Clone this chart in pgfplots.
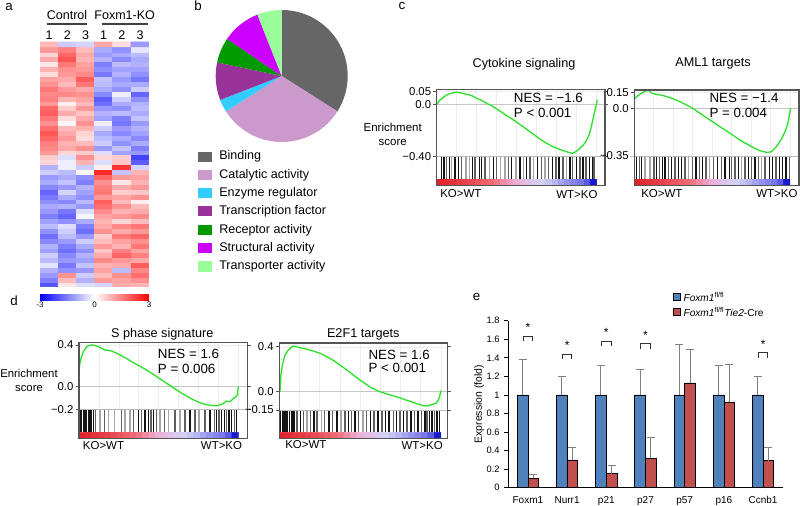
\documentclass[border=0pt]{standalone}
\usepackage{fontspec}
\setmainfont{Liberation Sans}
\usepackage{pgfplots}
\pgfplotsset{compat=1.18}
\usepackage{pgfplotstable}

\newcommand\fs[1]{\fontsize{#1}{#1}\selectfont}

\definecolor{esgreen}{RGB}{45,225,45}
\definecolor{hitA}{RGB}{20,20,20}
\definecolor{hitB}{RGB}{95,95,95}
\definecolor{hitC}{RGB}{165,165,165}
\definecolor{framec}{RGB}{85,85,85}
\definecolor{pBinding}{RGB}{102,102,102}
\definecolor{pCatalytic}{RGB}{204,153,204}
\definecolor{pEnzyme}{RGB}{51,204,255}
\definecolor{pTF}{RGB}{153,51,153}
\definecolor{pReceptor}{RGB}{0,153,0}
\definecolor{pStruct}{RGB}{204,0,255}
\definecolor{pTrans}{RGB}{153,255,153}
\definecolor{barblue}{RGB}{79,129,189}
\definecolor{barred}{RGB}{192,80,77}

% ranked-list colour bar (position, row, score)
\pgfplotstableread{
x y m
2 0 0.0
6 0 0.3
10 0 0.6
14 0 0.9
18 0 1.2
22 0 1.6
26 0 2.0
30 0 2.4
34 0 2.8
38 0 3.3
42 0 3.9
46 0 4.5
50 0 5.0
54 0 5.6
58 0 6.2
62 0 6.7
66 0 7.0
70 0 7.3
74 0 7.6
78 0 8.0
82 0 8.4
86 0 8.7
90 0 9.0
94 0 9.3
98 0 10
2 1 0.0
6 1 0.3
10 1 0.6
14 1 0.9
18 1 1.2
22 1 1.6
26 1 2.0
30 1 2.4
34 1 2.8
38 1 3.3
42 1 3.9
46 1 4.5
50 1 5.0
54 1 5.6
58 1 6.2
62 1 6.7
66 1 7.0
70 1 7.3
74 1 7.6
78 1 8.0
82 1 8.4
86 1 8.7
90 1 9.0
94 1 9.3
98 1 10
}\rankbar

\pgfplotsset{
  esax/.style={scale only axis, anchor=north west, width=126.2pt, height=50.25pt, xmin=0,
    axis line style={draw=none}, xtick={12.5,25,37.5,50,62.5,75,87.5,100}, xticklabels={},
    xtick style={draw=none}, grid=major, major grid style={black!7, line width=0.4pt},
    tick align=outside, major tick length=2.5pt, ytick style={framec, line width=0.5pt},
    yticklabel style={font=\fs{8.5}, inner sep=1.5pt}, clip=true},
  bcax/.style={scale only axis, anchor=north west, width=126.2pt, xmin=0, ymin=0, ymax=1,
    axis line style={draw=none}, ticks=none, clip=true},
  rkax/.style={scale only axis, anchor=north west, width=126.2pt, height=4.1pt, xmin=0,
    ymin=-0.5, ymax=1.5, axis line style={draw=none}, ticks=none,
    colormap={rank}{rgb255(0cm)=(225,35,45) rgb255(3cm)=(240,110,120) rgb255(5cm)=(238,175,215) rgb255(7cm)=(212,208,245) rgb255(9cm)=(120,120,235) rgb255(10cm)=(25,25,205)},
    point meta min=0, point meta max=10},
  hitsA/.style={ycomb, draw=hitA, line width=1.1pt, mark=none, forget plot},
  hitsB/.style={ycomb, draw=hitB, line width=1.1pt, mark=none, forget plot},
  hitsC/.style={ycomb, draw=hitC, line width=1.1pt, mark=none, forget plot},
  escurve/.style={esgreen, line width=1pt, mark=none},
  zeroline/.style={gray!45, line width=0.6pt, forget plot},
}

\newcommand\piewedge[3]{\fill[#1] (axis cs:0,0) -- ++({90-3.6*(#2)}:49.5pt) arc[start angle={90-3.6*(#2)}, delta angle={-3.6*(#3)}, radius=49.5pt] -- cycle;}

\begin{document}
\begin{tikzpicture}[x=0.75pt,y=-0.75pt]
\path[use as bounding box] (0,0) rectangle (800,506);

% ================= panel a : heatmap =================
\node[font=\fs{10}] at (9,7) {a};
\node[font=\fs{9.4}] at (67,15) {Control};
\node[font=\fs{9.4}] at (124.7,15) {Foxm1-KO};
\draw[black!75, line width=1pt] (46.7,24) -- (86.7,24);
\draw[black!75, line width=1pt] (101.7,24) -- (148.3,24);
\foreach \xx/\lab in {49.1/1,67.3/2,85.5/3,103.7/1,121.9/2,140.1/3}
  \node[font=\fs{9.4}] at (\xx,35) {\lab};

\begin{axis}[at={({40*0.75pt},{-42*0.75pt})}, anchor=north west, scale only axis,
  width=81.75pt, height=183.75pt, xmin=-0.5, xmax=5.5, ymin=-0.5, ymax=49.5,
  axis line style={draw=none}, ticks=none,
  colormap={bwr}{rgb255=(0,0,255) rgb255=(255,255,255) rgb255=(255,0,0)},
  point meta min=-3, point meta max=3,
  colorbar horizontal,
  colorbar style={at={(parent axis.south west)}, anchor=north west, yshift=3pt,
    scale only axis, width=81.75pt, height=4.5pt, xtick={-3,0,3},
    xticklabel style={font=\fs{6}, inner sep=1pt}, major tick length=0pt,
    axis line style={draw=none}, /pgf/number format/assume math mode=true}]
\addplot[matrix plot*, mesh/cols=6, point meta=explicit] coordinates {
(0,0)[-2.0] (1,0)[0.3] (2,0)[-0.4] (3,0)[-0.5] (4,0)[1.0] (5,0)[0.9]
(0,1)[-1.5] (1,1)[0.8] (2,1)[-0.9] (3,1)[1.2] (4,1)[1.1] (5,1)[1.3]
(0,2)[-1.2] (1,2)[1.3] (2,2)[-0.6] (3,2)[0.8] (4,2)[1.3] (5,2)[1.7]
(0,3)[-0.9] (1,3)[-1.3] (2,3)[-1.2] (3,3)[1.1] (4,3)[-0.8] (5,3)[1.4]
(0,4)[-0.3] (1,4)[-1.6] (2,4)[-0.7] (3,4)[0.9] (4,4)[1.0] (5,4)[1.9]
(0,5)[-0.8] (1,5)[-1.2] (2,5)[-1.1] (3,5)[1.4] (4,5)[1.2] (5,5)[1.0]
(0,6)[-0.6] (1,6)[-1.4] (2,6)[-0.9] (3,6)[1.0] (4,6)[1.8] (5,6)[1.5]
(0,7)[-1.1] (1,7)[-1.7] (2,7)[-1.3] (3,7)[0.7] (4,7)[1.5] (5,7)[1.1]
(0,8)[-0.9] (1,8)[-1.5] (2,8)[-1.0] (3,8)[1.2] (4,8)[0.9] (5,8)[1.6]
(0,9)[-1.4] (1,9)[-1.2] (2,9)[-0.6] (3,9)[0.8] (4,9)[1.1] (5,9)[1.3]
(0,10)[-1.7] (1,10)[-0.8] (2,10)[-1.2] (3,10)[0.6] (4,10)[1.6] (5,10)[1.8]
(0,11)[-1.3] (1,11)[-0.6] (2,11)[-1.7] (3,11)[1.3] (4,11)[1.0] (5,11)[1.2]
(0,12)[-0.8] (1,12)[-0.4] (2,12)[-1.5] (3,12)[1.0] (4,12)[1.4] (5,12)[1.6]
(0,13)[-1.1] (1,13)[-1.3] (2,13)[-1.0] (3,13)[0.9] (4,13)[0.5] (5,13)[0.8]
(0,14)[-1.5] (1,14)[-1.8] (2,14)[-0.1] (3,14)[1.1] (4,14)[1.2] (5,14)[1.4]
(0,15)[-1.2] (1,15)[-1.6] (2,15)[-0.4] (3,15)[1.4] (4,15)[0.9] (5,15)[1.0]
(0,16)[-1.0] (1,16)[-0.9] (2,16)[-1.2] (3,16)[1.7] (4,16)[1.3] (5,16)[0.8]
(0,17)[-1.3] (1,17)[-1.4] (2,17)[-0.8] (3,17)[1.9] (4,17)[0.8] (5,17)[0.2]
(0,18)[-1.6] (1,18)[-1.0] (2,18)[-1.3] (3,18)[1.2] (4,18)[1.1] (5,18)[1.3]
(0,19)[-1.8] (1,19)[-0.5] (2,19)[-1.1] (3,19)[1.6] (4,19)[0.6] (5,19)[0.7]
(0,20)[-1.4] (1,20)[-1.2] (2,20)[-0.9] (3,20)[1.5] (4,20)[1.0] (5,20)[1.2]
(0,21)[-1.0] (1,21)[-0.7] (2,21)[-1.5] (3,21)[1.3] (4,21)[0.3] (5,21)[0.9]
(0,22)[-1.2] (1,22)[-1.0] (2,22)[-1.3] (3,22)[1.8] (4,22)[1.2] (5,22)[1.1]
(0,23)[-0.6] (1,23)[-0.8] (2,23)[0.1] (3,23)[2.5] (4,23)[-0.7] (5,23)[0.9]
(0,24)[-0.9] (1,24)[-0.2] (2,24)[-0.6] (3,24)[0.2] (4,24)[2.4] (5,24)[-0.5]
(0,25)[0.5] (1,25)[-0.2] (2,25)[0.9] (3,25)[-0.4] (4,25)[0.7] (5,25)[-1.9]
(0,26)[0.6] (1,26)[-0.4] (2,26)[1.3] (3,26)[0.5] (4,26)[0.6] (5,26)[-2.2]
(0,27)[1.2] (1,27)[0.5] (2,27)[0.6] (3,27)[-0.4] (4,27)[-1.1] (5,27)[-1.2]
(0,28)[1.4] (1,28)[1.0] (2,28)[1.3] (3,28)[-1.2] (4,28)[-0.7] (5,28)[-1.5]
(0,29)[1.5] (1,29)[0.9] (2,29)[0.8] (3,29)[-0.6] (4,29)[-1.3] (5,29)[-1.0]
(0,30)[1.8] (1,30)[1.2] (2,30)[0.4] (3,30)[-0.8] (4,30)[-1.0] (5,30)[-1.4]
(0,31)[2.0] (1,31)[1.0] (2,31)[0.5] (3,31)[-1.0] (4,31)[-1.4] (5,31)[-1.1]
(0,32)[1.7] (1,32)[0.8] (2,32)[0.9] (3,32)[-0.6] (4,32)[-1.2] (5,32)[-0.9]
(0,33)[1.3] (1,33)[0.1] (2,33)[1.3] (3,33)[-0.2] (4,33)[-1.6] (5,33)[-1.2]
(0,34)[1.6] (1,34)[0.4] (2,34)[1.0] (3,34)[-1.1] (4,34)[-1.5] (5,34)[-0.7]
(0,35)[1.9] (1,35)[1.0] (2,35)[0.7] (3,35)[-0.9] (4,35)[-0.8] (5,35)[-1.0]
(0,36)[1.8] (1,36)[0.6] (2,36)[1.2] (3,36)[-1.2] (4,36)[-1.3] (5,36)[-0.8]
(0,37)[1.2] (1,37)[0.2] (2,37)[0.8] (3,37)[-1.7] (4,37)[-1.0] (5,37)[-0.9]
(0,38)[1.5] (1,38)[0.9] (2,38)[1.1] (3,38)[-1.9] (4,38)[-0.6] (5,38)[-1.3]
(0,39)[1.4] (1,39)[1.4] (2,39)[1.3] (3,39)[-1.4] (4,39)[-0.2] (5,39)[-1.8]
(0,40)[1.6] (1,40)[1.2] (2,40)[1.0] (3,40)[-1.0] (4,40)[-1.3] (5,40)[-0.6]
(0,41)[1.3] (1,41)[0.8] (2,41)[1.6] (3,41)[-0.8] (4,41)[-1.0] (5,41)[-1.0]
(0,42)[1.1] (1,42)[1.0] (2,42)[1.9] (3,42)[-0.7] (4,42)[-1.2] (5,42)[-1.6]
(0,43)[0.4] (1,43)[1.2] (2,43)[1.4] (3,43)[-1.6] (4,43)[-0.9] (5,43)[-1.3]
(0,44)[0.9] (1,44)[1.3] (2,44)[1.2] (3,44)[-1.3] (4,44)[-1.1] (5,44)[-1.1]
(0,45)[0.3] (1,45)[1.6] (2,45)[1.1] (3,45)[-1.5] (4,45)[-0.8] (5,45)[-0.9]
(0,46)[1.0] (1,46)[2.0] (2,46)[0.9] (3,46)[-0.9] (4,46)[-1.4] (5,46)[-1.0]
(0,47)[0.5] (1,47)[1.8] (2,47)[1.0] (3,47)[-1.2] (4,47)[-1.0] (5,47)[-0.8]
(0,48)[1.2] (1,48)[1.5] (2,48)[0.8] (3,48)[-1.0] (4,48)[-1.3] (5,48)[-0.3]
(0,49)[0.8] (1,49)[-0.6] (2,49)[-0.5] (3,49)[1.0] (4,49)[0.4] (5,49)[-1.2]
};
\end{axis}

% ================= panel b : pie =================
\node[font=\fs{10}] at (198,6) {b};
\begin{axis}[at={({281.7*0.75pt},{-76*0.75pt})}, anchor=center, scale only axis, width=99pt, height=99pt,
  xmin=-1, xmax=1, ymin=-1, ymax=1, hide axis]
\piewedge{pBinding}{0}{34}
\piewedge{pCatalytic}{34}{32}
\piewedge{pEnzyme}{66}{3.1}
\piewedge{pTF}{69.1}{9.2}
\piewedge{pReceptor}{78.3}{6.2}
\piewedge{pStruct}{84.5}{9.5}
\piewedge{pTrans}{94}{6}
\end{axis}
\foreach \yy/\cc/\lab in {156.7/pBinding/Binding, 174.9/pCatalytic/Catalytic activity,
  193.1/pEnzyme/Enzyme regulator, 211.5/pTF/Transcription factor,
  229.8/pReceptor/Receptor activity, 248.1/pStruct/Structural activity,
  266.5/pTrans/Transporter activity}{
  \fill[\cc] (198.3,\yy-5) rectangle (211.7,\yy+5);
  \node[anchor=west, inner sep=0pt, font=\fs{9.4}] at (219,\yy) {\lab};
}

% ================= panel c =================
\node[font=\fs{10}] at (402,6) {c};
\node[font=\fs{9.5}] at (524,64) {Cytokine signaling};
\node[font=\fs{9.5}] at (713,63) {AML1 targets};
\node[align=center, font=\fontsize{8.6}{10.8}\selectfont] at (392.7,134.5) {Enrichment\\score};

% --- c1
\begin{axis}[esax, at={({436.7*0.75pt},{-89.3*0.75pt})}, xmax=105.2, ymin=-0.40, ymax=0.115,
  ytick={0.097,0,-0.40}, yticklabels={0.05,0.0,−0.40}]
\addplot[zeroline] coordinates {(0,0) (105.2,0)};
\addplot[escurve] coordinates {(0,0) (2.1,0.033) (6.25,0.072) (9,0.085) (12.5,0.092) (15,0.088) (18.75,0.077) (22,0.066) (25,0.046) (28,0.030) (31.25,0.008) (34.5,-0.012) (37.5,-0.036) (40.5,-0.060) (43.75,-0.088) (47,-0.112) (50,-0.138) (53,-0.164) (56.25,-0.192) (59.5,-0.222) (62.5,-0.249) (65.5,-0.276) (68.75,-0.300) (72,-0.322) (75,-0.338) (78,-0.352) (81.25,-0.365) (84.4,-0.377) (86,-0.372) (87.5,-0.359) (89.5,-0.34) (91.7,-0.313) (93.3,-0.285) (94.8,-0.249) (96,-0.205) (96.9,-0.159) (98,-0.10) (99,-0.044) (100.4,0.033)};
\end{axis}
\begin{axis}[bcax, at={({436.7*0.75pt},{-156.3*0.75pt})}, height=17.25pt, xmax=105.2]
\addplot[hitsA] coordinates {(3.1,1) (4.6,1) (7.9,1) (11.4,1) (13.5,1) (22.5,1) (26.6,1) (28.1,1) (35.4,1) (46.9,1) (52.1,1) (56.2,1) (62.9,1) (72.5,1) (76.6,1) (83.3,1) (87.5,1) (91.6,1) (95.4,1) (97.5,1)};
\addplot[hitsB] coordinates {(6.2,1) (15.6,1) (24.0,1) (30.2,1) (37.5,1) (44.8,1) (58.3,1) (65.6,1) (69.8,1) (74.6,1) (79.1,1) (85.0,1) (89.6,1) (93.3,1) (98.3,1)};
\addplot[hitsC] coordinates {(9.4,1) (18.3,1) (20.4,1) (32.9,1) (40.0,1) (42.7,1) (49.6,1) (54.1,1) (60.4,1) (67.7,1) (81.2,1)};
\end{axis}
\begin{axis}[rkax, at={({436.7*0.75pt},{-179.5*0.75pt})}, xmax=105.2]
\addplot[matrix plot*, mesh/cols=25, point meta=explicit] table[meta=m] {\rankbar};
\end{axis}
\draw[gray!55, line width=0.5pt] (436.7,156.3) -- (605,156.3);
\draw[framec, line width=0.8pt] (436.7,89.3) rectangle (605,185.7);
\node[font=\fs{10}, anchor=west, inner sep=0pt] at (513.7,98.3) {NES = −1.6};
\node[font=\fs{10}, anchor=west, inner sep=0pt] at (513.7,113.3) {P < 0.001};
\node[font=\fs{8.6}, anchor=west, inner sep=0pt] at (440,193.5) {KO>WT};
\node[font=\fs{8.6}, anchor=east, inner sep=0pt] at (597.7,194.5) {WT>KO};

% --- c2
\begin{axis}[esax, at={({634.3*0.75pt},{-90*0.75pt})}, width=123.5pt, height=49.5pt, xmax=105.8,
  ymin=-0.35, ymax=0.134, ytick={0.114,0,-0.35}, yticklabels={0.15,0.0,−0.35}]
\addplot[zeroline] coordinates {(0,0) (105.8,0)};
\addplot[escurve] coordinates {(0,0.068) (1.5,0.085) (3.7,0.103) (6,0.12) (9.0,0.134) (11.2,0.110) (13.5,0.104) (16.5,0.098) (19.5,0.090) (22.9,0.078) (26,0.064) (29.4,0.048) (32.5,0.030) (35.8,0.012) (39,-0.012) (42.2,-0.037) (45.4,-0.062) (48.6,-0.086) (51.8,-0.110) (55,-0.135) (58.2,-0.159) (61.5,-0.183) (64.7,-0.208) (67.9,-0.233) (71,-0.254) (74.3,-0.274) (77.5,-0.294) (80.7,-0.311) (83,-0.318) (85,-0.323) (86.5,-0.322) (88.2,-0.318) (89.3,-0.305) (90.4,-0.293) (92,-0.27) (93.6,-0.245) (95.2,-0.21) (96.8,-0.172) (98,-0.135) (98.9,-0.098) (99.6,-0.05) (100.4,0.0)};
\end{axis}
\begin{axis}[bcax, at={({634.3*0.75pt},{-156*0.75pt})}, width=123.5pt, height=17.6pt, xmax=105.8]
\addplot[hitsA] coordinates {(1.5,1) (4.7,1) (14.4,1) (18.2,1) (19.7,1) (24.0,1) (28.3,1) (30.4,1) (39.6,1) (43.9,1) (53.3,1) (58.3,1) (61.0,1) (66.8,1) (73.3,1) (77.5,1) (86.7,1) (88.9,1) (93.2,1) (95.3,1) (97.5,1)};
\addplot[hitsB] coordinates {(3.2,1) (12.7,1) (16.1,1) (21.9,1) (26.1,1) (32.6,1) (37.5,1) (41.8,1) (46.1,1) (50.8,1) (56.1,1) (62.6,1) (64.7,1) (71.1,1) (75.4,1) (79.7,1) (84.0,1) (91.0,1) (99.6,1)};
\addplot[hitsC] coordinates {(6.9,1) (10.1,1) (34.7,1) (48.2,1) (69.0,1) (81.8,1)};
\end{axis}
\begin{axis}[rkax, at={({634.3*0.75pt},{-179.5*0.75pt})}, width=123.5pt, xmax=105.8]
\addplot[matrix plot*, mesh/cols=25, point meta=explicit] table[meta=m] {\rankbar};
\end{axis}
\draw[gray!55, line width=0.5pt] (630,156) -- (799,156);
\draw[framec, line width=0.8pt] (634.3,90) rectangle (799,185.7);
\node[font=\fs{10}, anchor=west, inner sep=0pt] at (709.3,97.7) {NES = −1.4};
\node[font=\fs{10}, anchor=west, inner sep=0pt] at (709.3,112.7) {P = 0.004};
\node[font=\fs{8.6}, anchor=west, inner sep=0pt] at (641,193.3) {KO>WT};
\node[font=\fs{8.6}, anchor=east, inner sep=0pt] at (797.7,194) {WT>KO};

% ================= panel d =================
\node[font=\fs{10}] at (14,301) {d};
\node[font=\fs{9.5}] at (162.3,334.3) {S phase signature};
\node[font=\fs{9.5}] at (363.3,334.3) {E2F1 targets};
\node[align=center, font=\fontsize{8.5}{10.8}\selectfont] at (29,380.3) {Enrichment\\score};

% --- d1
\begin{axis}[esax, at={({79*0.75pt},{-342.3*0.75pt})}, xmax=105.6, ymin=-0.2, ymax=0.393,
  ytick={0.369,0,-0.2}, yticklabels={0.4,0.0,−0.2}]
\addplot[zeroline] coordinates {(0,0) (105.6,0)};
\addplot[escurve] coordinates {(0,0.163) (1.26,0.251) (2.7,0.310) (4.8,0.354) (6.5,0.366) (8.0,0.369) (10,0.365) (12.1,0.354) (14.2,0.340) (16.3,0.325) (18.4,0.322) (20.5,0.316) (23.6,0.296) (26.8,0.274) (30,0.248) (33.1,0.221) (36.2,0.197) (39.4,0.172) (42.5,0.146) (45.6,0.119) (48.8,0.089) (51.9,0.059) (55,0.030) (58.2,0.0) (61.3,-0.029) (64.5,-0.058) (67.6,-0.084) (70.8,-0.109) (74,-0.130) (77,-0.147) (79,-0.155) (81.2,-0.162) (83.8,-0.166) (86.4,-0.168) (88,-0.163) (89.6,-0.156) (91.2,-0.142) (92.7,-0.127) (93.8,-0.131) (94.8,-0.133) (95.9,-0.118) (96.9,-0.103) (98.6,-0.088) (99.4,-0.07) (100,0.0)};
\end{axis}
\begin{axis}[bcax, at={({79*0.75pt},{-409.3*0.75pt})}, height=17.25pt, xmax=105.6]
\addplot[hitsA] coordinates {(0.6,1) (1.7,1) (2.7,1) (3.8,1) (4.8,1) (6.3,1) (7.5,1) (9.0,1) (37.2,1) (41.4,1) (43.5,1) (46.7,1) (69.7,1) (82.2,1) (86.4,1) (89.5,1) (91.2,1) (94.1,1) (95.8,1) (98.9,1)};
\addplot[hitsB] coordinates {(10.5,1) (15.9,1) (26.8,1) (34.1,1) (39.3,1) (45.2,1) (48.7,1) (53.6,1) (60.3,1) (66.5,1) (72.8,1) (79.1,1) (84.9,1) (87.9,1) (92.7,1) (97.5,1)};
\addplot[hitsC] coordinates {(13.2,1) (18.4,1) (22.2,1) (28.9,1) (32.0,1) (50.8,1) (56.1,1) (63.4,1) (75.3,1)};
\end{axis}
\begin{axis}[rkax, at={({79*0.75pt},{-432.3*0.75pt})}, xmax=105.6]
\addplot[matrix plot*, mesh/cols=25, point meta=explicit] table[meta=m] {\rankbar};
\end{axis}
\draw[gray!55, line width=0.5pt] (79,409.3) -- (247.3,409.3);
\draw[framec, line width=0.8pt] (79,342.3) rectangle (247.3,438.3);
\node[font=\fs{10}, anchor=west, inner sep=0pt] at (157.7,354.3) {NES = 1.6};
\node[font=\fs{10}, anchor=west, inner sep=0pt] at (157.7,369) {P = 0.006};
\node[font=\fs{8.6}, anchor=west, inner sep=0pt] at (82.7,446) {KO>WT};
\node[font=\fs{8.6}, anchor=east, inner sep=0pt] at (242.3,446) {WT>KO};

% --- d2
\begin{axis}[esax, at={({279.3*0.75pt},{-343*0.75pt})}, xmax=104.1, ymin=-0.15, ymax=0.40,
  ytick={0.369,0,-0.15}, yticklabels={0.4,0.0,−0.15}]
\addplot[zeroline] coordinates {(0,0) (104.1,0)};
\addplot[escurve] coordinates {(0.4,0) (1.0,0.137) (1.9,0.219) (3.5,0.301) (5.5,0.342) (7.1,0.362) (8.7,0.375) (10.7,0.368) (12.8,0.361) (16.0,0.352) (19.0,0.342) (22.2,0.329) (25.2,0.315) (28.3,0.296) (31.3,0.274) (34.5,0.248) (37.5,0.219) (40.6,0.190) (43.7,0.159) (46.8,0.127) (49.9,0.096) (53.0,0.068) (56.1,0.040) (59.3,0.018) (62.3,0.0) (65.4,-0.013) (68.5,-0.025) (71.6,-0.038) (74.7,-0.050) (78.8,-0.070) (82.9,-0.088) (86,-0.102) (89.1,-0.114) (91.3,-0.117) (93.2,-0.110) (95.3,-0.102) (97.3,-0.092) (98.9,-0.054) (100,0.01)};
\end{axis}
\begin{axis}[bcax, at={({279.3*0.75pt},{-410*0.75pt})}, height=16.7pt, xmax=104.1]
\addplot[hitsA] coordinates {(0.9,1) (1.9,1) (3.0,1) (4.0,1) (5.0,1) (6.3,1) (7.8,1) (9.2,1) (13.0,1) (21.4,1) (30.8,1) (35.6,1) (42.7,1) (46.9,1) (56.5,1) (61.1,1) (65.7,1) (67.8,1) (72.6,1) (76.8,1) (81.6,1) (85.8,1) (90.0,1) (93.0,1) (94.5,1) (97.5,1) (99.0,1)};
\addplot[hitsB] coordinates {(10.9,1) (15.1,1) (19.3,1) (23.4,1) (28.0,1) (32.9,1) (40.6,1) (44.8,1) (49.0,1) (53.8,1) (58.6,1) (63.6,1) (70.5,1) (74.7,1) (78.9,1) (83.7,1) (87.9,1) (91.5,1) (96.0,1)};
\addplot[hitsC] coordinates {(17.2,1) (26.0,1) (38.1,1) (51.7,1)};
\end{axis}
\begin{axis}[rkax, at={({279.3*0.75pt},{-432.3*0.75pt})}, xmax=104.1]
\addplot[matrix plot*, mesh/cols=25, point meta=explicit] table[meta=m] {\rankbar};
\end{axis}
\draw[gray!55, line width=0.5pt] (279.3,410) -- (447.6,410);
\draw[framec, line width=0.8pt] (279.3,343) rectangle (447.6,438.3);
\node[font=\fs{10}, anchor=west, inner sep=0pt] at (368.3,355) {NES = 1.6};
\node[font=\fs{10}, anchor=west, inner sep=0pt] at (368.3,368.3) {P < 0.001};
\node[font=\fs{8.6}, anchor=west, inner sep=0pt] at (285,445) {KO>WT};
\node[font=\fs{8.6}, anchor=east, inner sep=0pt] at (443,446) {WT>KO};

% ================= panel e =================
\node[font=\fs{10}] at (476.7,297) {e};
\begin{axis}[at={({508.3*0.75pt},{-487.7*0.75pt})}, anchor=south west, scale only axis,
  width=205.8pt, height=125.25pt, xmin=-0.5, xmax=6.5, ymin=0, ymax=1.8,
  axis x line*=bottom, axis y line*=left, axis line style={black, line width=0.6pt},
  xtick={0,1,2,3,4,5,6}, xticklabels={Foxm1,Nurr1,p21,p27,p57,p16,Ccnb1},
  ytick={0,0.2,0.4,0.6,0.8,1,1.2,1.4,1.6,1.8},
  tick align=outside, major tick length=3pt, xtick style={draw=none},
  ytick style={black, line width=0.5pt},
  yticklabel style={font=\fs{7}, /pgf/number format/fixed, /pgf/number format/precision=1},
  xticklabel style={font=\fs{7.5}},
  ylabel={Expression (fold)},
  ylabel style={font=\fs{7.8}, at={(axis description cs:-0.106,0.5)}, anchor=center},
  /pgf/number format/assume math mode=true, clip=false]
\addplot[ybar, bar width=8pt, bar shift=0pt, fill=barblue, draw=black, line width=0.5pt,
  error bars/.cd, y dir=plus, y explicit,
  error bar style={black!50, line width=0.7pt},
  error mark options={rotate=90, mark size=3pt, black!50, line width=0.7pt}]
  coordinates {(-0.1365,1) +- (0,0.38) (0.8635,1) +- (0,0.20) (1.8635,1) +- (0,0.32) (2.8635,1) +- (0,0.27) (3.8635,1) +- (0,0.54) (4.8635,1) +- (0,0.32) (5.8635,1) +- (0,0.20)};
\addplot[ybar, bar width=8pt, bar shift=0pt, fill=barred, draw=black, line width=0.5pt,
  error bars/.cd, y dir=plus, y explicit,
  error bar style={black!50, line width=0.7pt},
  error mark options={rotate=90, mark size=3pt, black!50, line width=0.7pt}]
  coordinates {(0.1365,0.10) +- (0,0.04) (1.1365,0.30) +- (0,0.13) (2.1365,0.15) +- (0,0.09) (3.1365,0.32) +- (0,0.22) (4.1365,1.13) +- (0,0.36) (5.1365,0.92) +- (0,0.41) (6.1365,0.29) +- (0,0.14)};
\addplot[black!80, line width=0.6pt, forget plot] coordinates {(-0.12,1.58) (-0.12,1.635) (0.12,1.635) (0.12,1.58)};
\addplot[black!80, line width=0.6pt, forget plot] coordinates {(0.88,1.385) (0.88,1.44) (1.12,1.44) (1.12,1.385)};
\addplot[black!80, line width=0.6pt, forget plot] coordinates {(1.88,1.525) (1.88,1.58) (2.12,1.58) (2.12,1.525)};
\addplot[black!80, line width=0.6pt, forget plot] coordinates {(2.88,1.495) (2.88,1.55) (3.12,1.55) (3.12,1.495)};
\addplot[black!80, line width=0.6pt, forget plot] coordinates {(5.88,1.40) (5.88,1.455) (6.12,1.455) (6.12,1.40)};
\node[font=\fs{9}, inner sep=0pt] at (axis cs:0,1.73) {*};
\node[font=\fs{9}, inner sep=0pt] at (axis cs:1,1.535) {*};
\node[font=\fs{9}, inner sep=0pt] at (axis cs:2,1.675) {*};
\node[font=\fs{9}, inner sep=0pt] at (axis cs:3,1.645) {*};
\node[font=\fs{9}, inner sep=0pt] at (axis cs:6,1.55) {*};
\end{axis}
\filldraw[fill=barblue, draw=black, line width=0.3pt] (673.3,293.5) rectangle (680.3,300.5);
\node[anchor=west, inner sep=0pt, font=\fs{7.6}] at (683.3,297) {\textit{Foxm1}\textsuperscript{fl/fl}};
\filldraw[fill=barred, draw=black, line width=0.3pt] (673.3,308.5) rectangle (680.3,315.5);
\node[anchor=west, inner sep=0pt, font=\fs{7.6}] at (683.3,312) {\textit{Foxm1}\textsuperscript{fl/fl}\textit{Tie2}-Cre};

\end{tikzpicture}
\end{document}
